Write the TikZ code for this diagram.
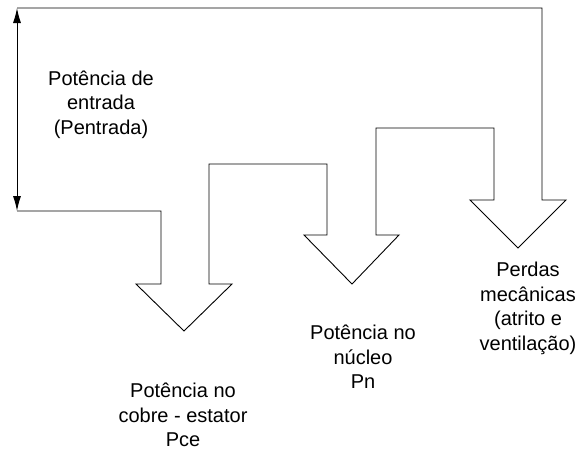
\documentclass[tikz,border=0pt]{standalone}
\usepackage{fontspec}
\setmainfont{Liberation Sans}
\usetikzlibrary{arrows.meta}
\begin{document}
\begin{tikzpicture}[x=1pt, y=-1pt, line width=0.9pt, >={Latex[length=15pt,width=8pt]}]
		% text style of the labels
		  \tikzset{lbl/.style={align=center, font=\fontsize{20}{24.5}\selectfont}}
		  \useasboundingbox (0,0) rectangle (581,451);
		  \coordinate (top) at (17,8);
		  \coordinate (bot) at (17,211);
		 \draw (top) -- (542,8) -- (542,200) -- (566,200) -- (518,248) -- (470,200) -- (494,200)
		              -- (494,128) -- (376,128) -- (376,235) -- (399,235) -- (352,284) -- (304,235) -- (327,235)
		              -- (327,164) -- (209,164) -- (209,284) -- (232,284) -- (184,331) -- (136,284) -- (161,284)
		              -- (161,211) -- (bot);
		   \draw [<->] (top) -- (bot);
		   \node [lbl] (entrada) at (101,104.5) {Potência de\\entrada\\(Pentrada)};
		   \node [lbl] (cobre) at (183,415) {Potência no\\cobre - estator\\Pce};
		   \node [lbl] (nucleo) at (363,357) {Potência no\\núcleo\\Pn};
		   \node [lbl] (mec) at (528,308.5) {Perdas\\mecânicas\\(atrito e\\ventilação)};
	\end{tikzpicture}
\end{document}
